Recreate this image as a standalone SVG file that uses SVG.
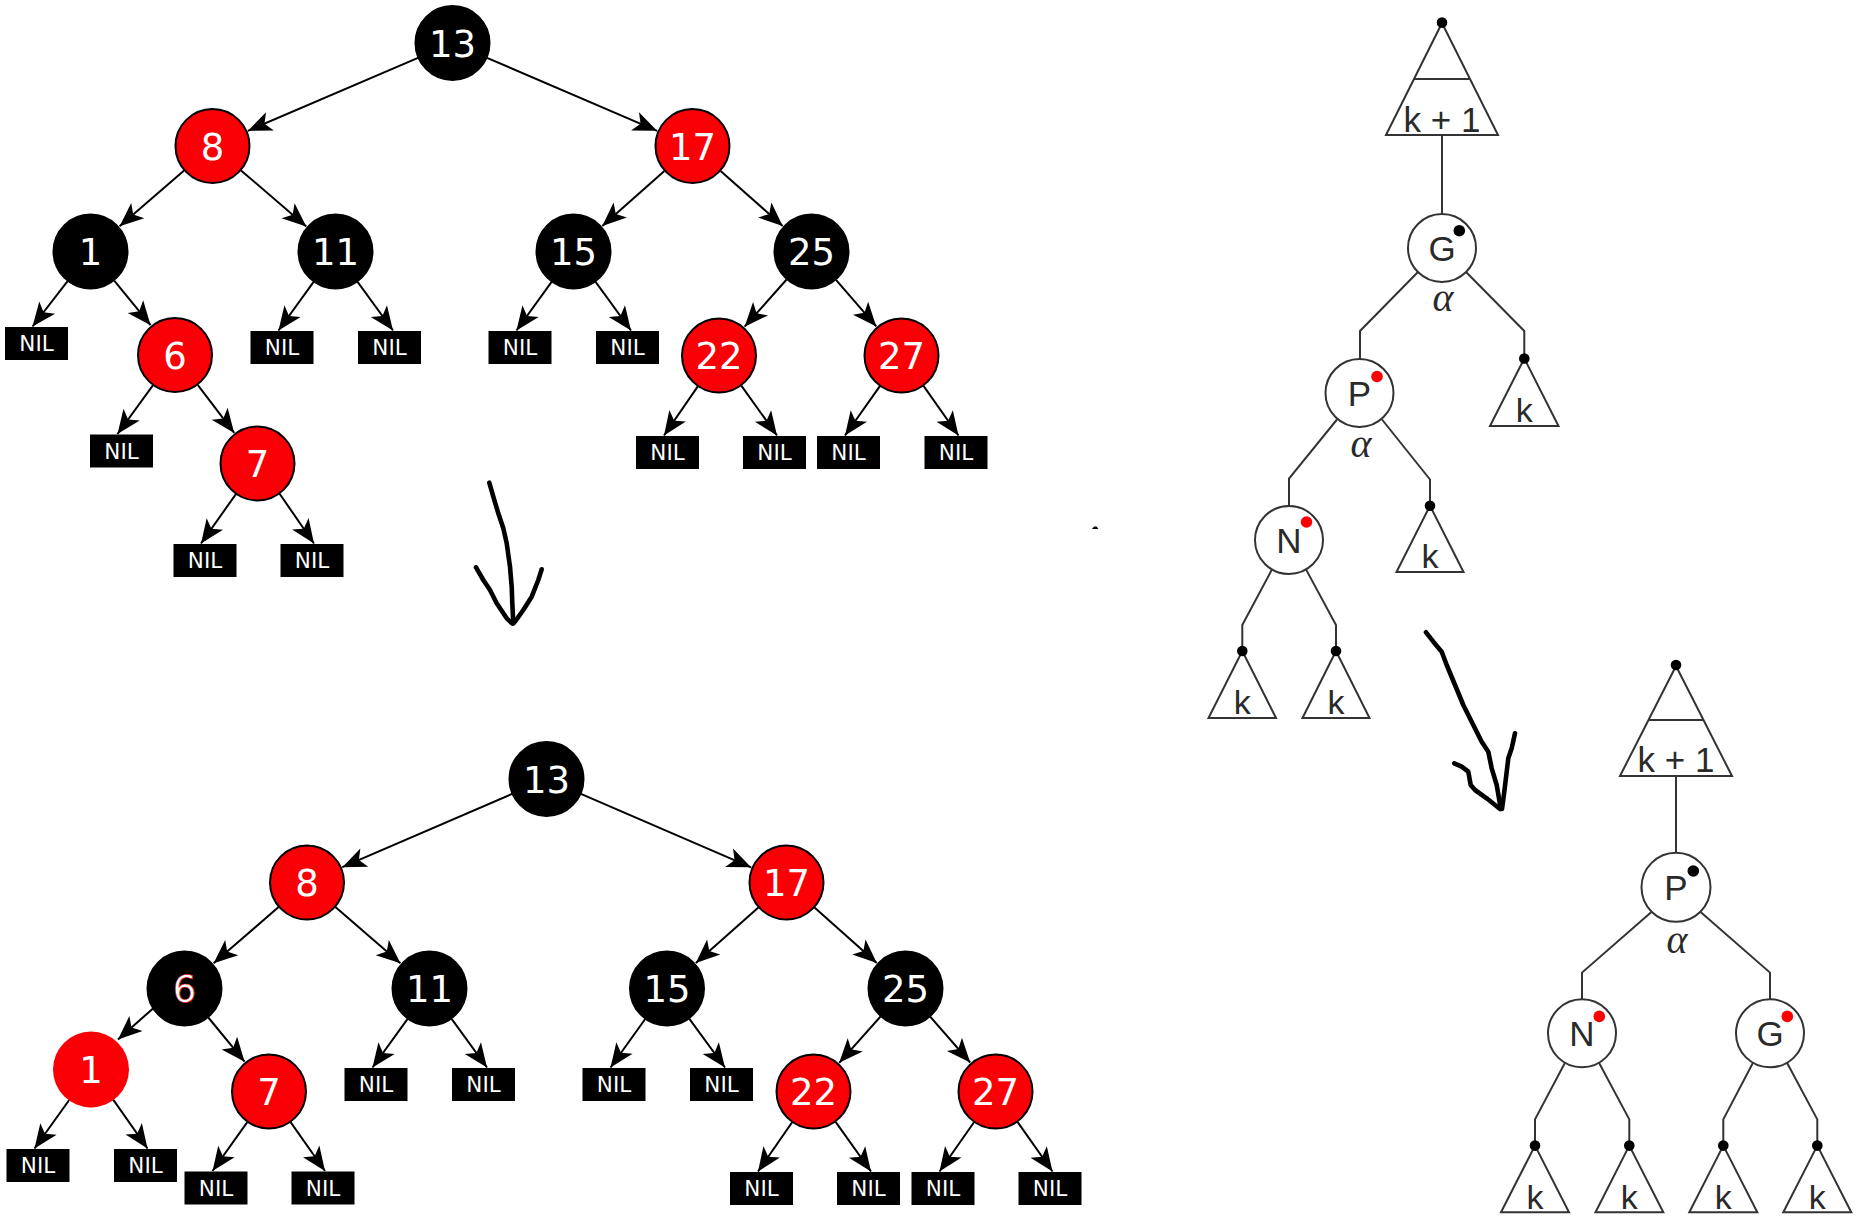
<svg xmlns="http://www.w3.org/2000/svg" width="1860" height="1229" viewBox="0 0 1860 1229">
<style>
.bn{fill:#000;stroke:#000;stroke-width:2}
.rn{fill:#fa0006;stroke:#000;stroke-width:2}
.rn0{fill:#fa0006;stroke:none}
.nt{fill:#fff;font-family:"DejaVu Sans",sans-serif;font-size:37px;text-anchor:middle}
.nil{fill:#000}
.nilt{fill:#fff;font-family:"DejaVu Sans",sans-serif;font-size:21.5px;text-anchor:middle}
.ed{stroke:#000;stroke-width:2;fill:none;marker-end:url(#ah)}
.ln{stroke:#333;stroke-width:2;fill:none}
.cn{fill:#fff;stroke:#333;stroke-width:2}
.tri{fill:#fff;stroke:#333;stroke-width:2;stroke-linejoin:miter}
.lt{fill:#2a2a2a;font-family:"Liberation Sans",Arial,sans-serif;font-size:35px;text-anchor:middle}
.kt{fill:#2a2a2a;font-family:"Liberation Sans",Arial,sans-serif;font-size:34px;text-anchor:middle}
.al{fill:#2a2a2a;font-family:"Liberation Serif","Times New Roman",serif;font-style:italic;font-size:40px;text-anchor:middle}
.dot{fill:#000}
.rdot{fill:#f00}
.hand{stroke:#000;stroke-width:4.6;fill:none;stroke-linecap:round;stroke-linejoin:round}
</style>
<defs>
<marker id="ah" viewBox="-25 -11 26 22" refX="0" refY="0" markerWidth="26" markerHeight="22" markerUnits="userSpaceOnUse" orient="auto">
<path d="M0,0 L-24,-10 L-18,0 L-24,10 Z" fill="#000"/>
</marker>
</defs>
<rect width="1860" height="1229" fill="#fff"/>

<!-- connectors: top-left tree -->
<g id="connectors-top">
<line class="ed" x1="418" y1="57.8" x2="247.9" y2="130.8"/>
<line class="ed" x1="487" y1="57.8" x2="657.1" y2="130.8"/>
<line class="ed" x1="184.1" y1="170.5" x2="119.6" y2="226.3"/>
<line class="ed" x1="241" y1="170.4" x2="306.3" y2="226.4"/>
<line class="ed" x1="664.4" y1="170.9" x2="602.3" y2="226"/>
<line class="ed" x1="720.6" y1="170.9" x2="782.7" y2="226"/>
<line class="ed" x1="114.2" y1="280.6" x2="150.6" y2="325.2"/>
<line class="ed" x1="197.7" y1="384.9" x2="234.2" y2="432.9"/>
<line class="ed" x1="786.6" y1="279.5" x2="744.6" y2="326.7"/>
<line class="ed" x1="836" y1="279.9" x2="876.3" y2="326.4"/>
<line class="ed" x1="67.6" y1="281.2" x2="32.5" y2="326.5"/>
<line class="ed" x1="152.9" y1="385.3" x2="117.5" y2="434"/>
<line class="ed" x1="235.9" y1="494.1" x2="201" y2="543.5"/>
<line class="ed" x1="279.6" y1="493.8" x2="314" y2="543.5"/>
<line class="ed" x1="313.6" y1="281.9" x2="278.5" y2="330.5"/>
<line class="ed" x1="357.6" y1="281.8" x2="393" y2="330.5"/>
<line class="ed" x1="551.6" y1="281.9" x2="516.5" y2="330.5"/>
<line class="ed" x1="595.6" y1="281.8" x2="631" y2="330.5"/>
<line class="ed" x1="697.8" y1="386.4" x2="664" y2="435.5"/>
<line class="ed" x1="741.3" y1="385.7" x2="777" y2="435.5"/>
<line class="ed" x1="879.9" y1="386.1" x2="845" y2="435.5"/>
<line class="ed" x1="923.5" y1="385.9" x2="958.5" y2="435.5"/>
</g>

<!-- connectors: bottom-left tree -->
<g id="connectors-bottom">
<line class="ed" x1="512.1" y1="793.9" x2="342.3" y2="867.2"/>
<line class="ed" x1="580.9" y1="793.9" x2="751.1" y2="867.3"/>
<line class="ed" x1="278.6" y1="907" x2="213.6" y2="963.3"/>
<line class="ed" x1="335.4" y1="907" x2="400.4" y2="963.3"/>
<line class="ed" x1="758.4" y1="907.4" x2="695.8" y2="963"/>
<line class="ed" x1="814.5" y1="907.4" x2="876.8" y2="962.9"/>
<line class="ed" x1="153" y1="1008.5" x2="118" y2="1039.5"/>
<line class="ed" x1="208.3" y1="1017.5" x2="244.6" y2="1061.7"/>
<line class="ed" x1="880.5" y1="1016.5" x2="839.2" y2="1062.8"/>
<line class="ed" x1="930.2" y1="1016.7" x2="970.2" y2="1062.5"/>
<line class="ed" x1="69.2" y1="1100" x2="34.5" y2="1148.5"/>
<line class="ed" x1="113.2" y1="1099.7" x2="147.5" y2="1148.5"/>
<line class="ed" x1="247.3" y1="1122.1" x2="212.5" y2="1171"/>
<line class="ed" x1="290.6" y1="1122.2" x2="325" y2="1171"/>
<line class="ed" x1="407.6" y1="1018.9" x2="372.5" y2="1067.5"/>
<line class="ed" x1="451.6" y1="1018.8" x2="487" y2="1067.5"/>
<line class="ed" x1="645.2" y1="1019" x2="610.5" y2="1067.5"/>
<line class="ed" x1="689.2" y1="1018.7" x2="725" y2="1067.5"/>
<line class="ed" x1="792.1" y1="1122.3" x2="758" y2="1171.5"/>
<line class="ed" x1="835.6" y1="1121.8" x2="871" y2="1171.5"/>
<line class="ed" x1="974" y1="1122.2" x2="939.5" y2="1171.5"/>
<line class="ed" x1="1017.5" y1="1121.9" x2="1052.5" y2="1171.5"/>
</g>

<!-- connectors: right-side trees -->
<g id="connectors-right">
<line class="ln" x1="1442" y1="135" x2="1442" y2="214"/>
<polyline class="ln" points="1418,272 1360,331 1360,359"/>
<polyline class="ln" points="1466,272 1524.3,331 1524.3,358.5"/>
<polyline class="ln" points="1337,419.5 1289,478.5 1289,506"/>
<polyline class="ln" points="1382,419.5 1430,479.5 1430,505.7"/>
<polyline class="ln" points="1272,569.4 1242.3,625 1242.3,651"/>
<polyline class="ln" points="1306,569.4 1336,625 1336,651"/>
<line class="ln" x1="1676" y1="776" x2="1676" y2="853"/>
<polyline class="ln" points="1652,911.5 1582,972.6 1582,999.5"/>
<polyline class="ln" points="1700,911.5 1770,972.6 1770,999.5"/>
<polyline class="ln" points="1565,1062.8 1535,1119.4 1535,1145.6"/>
<polyline class="ln" points="1599,1062.8 1629.3,1119.4 1629.3,1145.6"/>
<polyline class="ln" points="1753,1062.8 1723.3,1119.4 1723.3,1145.6"/>
<polyline class="ln" points="1787,1062.8 1817.3,1119.4 1817.3,1145.6"/>
</g>

<!-- top-left tree nodes -->
<g id="t13"><circle class="bn" cx="452.5" cy="43" r="37"/><text class="nt" x="452.5" y="56.5">13</text></g>
<g id="t8"><circle class="rn" cx="212.5" cy="146" r="37"/><text class="nt" x="212.5" y="159.5">8</text></g>
<g id="t17"><circle class="rn" cx="692.5" cy="146" r="37"/><text class="nt" x="692.5" y="159.5">17</text></g>
<g id="t1"><circle class="bn" cx="90.5" cy="251.5" r="37"/><text class="nt" x="90.5" y="265">1</text></g>
<g id="t11"><circle class="bn" cx="335.5" cy="251.5" r="37"/><text class="nt" x="335.5" y="265">11</text></g>
<g id="t15"><circle class="bn" cx="573.5" cy="251.5" r="37"/><text class="nt" x="573.5" y="265">15</text></g>
<g id="t25"><circle class="bn" cx="811.5" cy="251.5" r="37"/><text class="nt" x="811.5" y="265">25</text></g>
<g id="t6"><circle class="rn" cx="175" cy="355" r="37"/><text class="nt" x="175" y="368.5">6</text></g>
<g id="t22"><circle class="rn" cx="719" cy="355.5" r="37"/><text class="nt" x="719" y="369">22</text></g>
<g id="t27"><circle class="rn" cx="901.5" cy="355.5" r="37"/><text class="nt" x="901.5" y="369">27</text></g>
<g id="t7"><circle class="rn" cx="257.5" cy="463.5" r="37"/><text class="nt" x="257.5" y="477">7</text></g>
<g id="tnil1"><rect class="nil" x="5" y="327" width="63" height="33"/><text class="nilt" x="36.5" y="351.3">NIL</text></g>
<g id="tnil2"><rect class="nil" x="90" y="434.5" width="63" height="33"/><text class="nilt" x="121.5" y="458.8">NIL</text></g>
<g id="tnil3"><rect class="nil" x="173.5" y="544" width="63" height="33"/><text class="nilt" x="205" y="568.3">NIL</text></g>
<g id="tnil4"><rect class="nil" x="280.5" y="544" width="63" height="33"/><text class="nilt" x="312" y="568.3">NIL</text></g>
<g id="tnil5"><rect class="nil" x="250.5" y="331" width="63" height="33"/><text class="nilt" x="282" y="355.3">NIL</text></g>
<g id="tnil6"><rect class="nil" x="358" y="331" width="63" height="33"/><text class="nilt" x="389.5" y="355.3">NIL</text></g>
<g id="tnil7"><rect class="nil" x="488.5" y="331" width="63" height="33"/><text class="nilt" x="520" y="355.3">NIL</text></g>
<g id="tnil8"><rect class="nil" x="596" y="331" width="63" height="33"/><text class="nilt" x="627.5" y="355.3">NIL</text></g>
<g id="tnil9"><rect class="nil" x="636" y="436" width="63" height="33"/><text class="nilt" x="667.5" y="460.3">NIL</text></g>
<g id="tnil10"><rect class="nil" x="743" y="436" width="63" height="33"/><text class="nilt" x="774.5" y="460.3">NIL</text></g>
<g id="tnil11"><rect class="nil" x="817" y="436" width="63" height="33"/><text class="nilt" x="848.5" y="460.3">NIL</text></g>
<g id="tnil12"><rect class="nil" x="924.5" y="436" width="63" height="33"/><text class="nilt" x="956" y="460.3">NIL</text></g>

<!-- bottom-left tree nodes -->
<g id="b13"><circle class="bn" cx="546.5" cy="779" r="37"/><text class="nt" x="546.5" y="792.5">13</text></g>
<g id="b8"><circle class="rn" cx="307" cy="882.5" r="37"/><text class="nt" x="307" y="896">8</text></g>
<g id="b17"><circle class="rn" cx="786.5" cy="882.5" r="37"/><text class="nt" x="786.5" y="896">17</text></g>
<g id="b6"><circle class="bn" cx="184.5" cy="988.5" r="37"/><text class="nt" x="184.5" y="1002" stroke="#e00" stroke-width="0.6">6</text></g>
<g id="b11"><circle class="bn" cx="429.5" cy="988.5" r="37"/><text class="nt" x="429.5" y="1002">11</text></g>
<g id="b15"><circle class="bn" cx="667" cy="988.5" r="37"/><text class="nt" x="667" y="1002">15</text></g>
<g id="b25"><circle class="bn" cx="905.5" cy="988.5" r="37"/><text class="nt" x="905.5" y="1002">25</text></g>
<g id="b1"><circle class="rn0" cx="91" cy="1069.5" r="38"/><text class="nt" x="91" y="1083">1</text></g>
<g id="b7"><circle class="rn" cx="269" cy="1091.5" r="37"/><text class="nt" x="269" y="1105">7</text></g>
<g id="b22"><circle class="rn" cx="813.5" cy="1091.5" r="37"/><text class="nt" x="813.5" y="1105">22</text></g>
<g id="b27"><circle class="rn" cx="995.5" cy="1091.5" r="37"/><text class="nt" x="995.5" y="1105">27</text></g>
<g id="bnil1"><rect class="nil" x="6.5" y="1149" width="63" height="33"/><text class="nilt" x="38" y="1173.3">NIL</text></g>
<g id="bnil2"><rect class="nil" x="114" y="1149" width="63" height="33"/><text class="nilt" x="145.5" y="1173.3">NIL</text></g>
<g id="bnil3"><rect class="nil" x="184.5" y="1171.5" width="63" height="33"/><text class="nilt" x="216" y="1195.8">NIL</text></g>
<g id="bnil4"><rect class="nil" x="291.5" y="1171.5" width="63" height="33"/><text class="nilt" x="323" y="1195.8">NIL</text></g>
<g id="bnil5"><rect class="nil" x="344.5" y="1068" width="63" height="33"/><text class="nilt" x="376" y="1092.3">NIL</text></g>
<g id="bnil6"><rect class="nil" x="452" y="1068" width="63" height="33"/><text class="nilt" x="483.5" y="1092.3">NIL</text></g>
<g id="bnil7"><rect class="nil" x="582.5" y="1068" width="63" height="33"/><text class="nilt" x="614" y="1092.3">NIL</text></g>
<g id="bnil8"><rect class="nil" x="690" y="1068" width="63" height="33"/><text class="nilt" x="721.5" y="1092.3">NIL</text></g>
<g id="bnil9"><rect class="nil" x="730" y="1172" width="63" height="33"/><text class="nilt" x="761.5" y="1196.3">NIL</text></g>
<g id="bnil10"><rect class="nil" x="837" y="1172" width="63" height="33"/><text class="nilt" x="868.5" y="1196.3">NIL</text></g>
<g id="bnil11"><rect class="nil" x="911.5" y="1172" width="63" height="33"/><text class="nilt" x="943" y="1196.3">NIL</text></g>
<g id="bnil12"><rect class="nil" x="1018.5" y="1172" width="63" height="33"/><text class="nilt" x="1050" y="1196.3">NIL</text></g>

<!-- right top tree -->
<g id="rt-top"><path class="tri" d="M1442,23 L1386,135 L1498,135 Z"/><line class="ln" x1="1414" y1="79" x2="1470" y2="79"/><circle class="dot" cx="1442" cy="22.6" r="5.3"/><text class="lt" x="1442" y="131.5">k + 1</text></g>
<g id="rt-G"><circle class="cn" cx="1442" cy="248" r="34"/><text class="lt" x="1442" y="261">G</text><circle class="dot" cx="1459.3" cy="230.7" r="5.8"/><text class="al" x="1443" y="311">α</text></g>
<g id="rt-k1"><path class="tri" d="M1524.3,358.5 L1490,426 L1558.5,426 Z"/><circle class="dot" cx="1524.3" cy="358.5" r="5.3"/><text class="kt" x="1524.3" y="422">k</text></g>
<g id="rt-P"><circle class="cn" cx="1359.5" cy="393" r="34"/><text class="lt" x="1359.5" y="406">P</text><circle class="rdot" cx="1377" cy="376.5" r="5.8"/><text class="al" x="1361" y="456.5">α</text></g>
<g id="rt-k2"><path class="tri" d="M1430,505.7 L1396.5,572 L1463.5,572 Z"/><circle class="dot" cx="1430" cy="505.7" r="5.3"/><text class="kt" x="1430" y="568">k</text></g>
<g id="rt-N"><circle class="cn" cx="1289" cy="540" r="34"/><text class="lt" x="1289" y="553">N</text><circle class="rdot" cx="1306.5" cy="522" r="5.8"/></g>
<g id="rt-k3"><path class="tri" d="M1242.3,651 L1208.5,718 L1276,718 Z"/><circle class="dot" cx="1242.3" cy="651" r="5.3"/><text class="kt" x="1242.3" y="714">k</text></g>
<g id="rt-k4"><path class="tri" d="M1336,651 L1302.5,718 L1369.5,718 Z"/><circle class="dot" cx="1336" cy="651" r="5.3"/><text class="kt" x="1336" y="714">k</text></g>

<!-- right bottom tree -->
<g id="rb-top"><path class="tri" d="M1676,666 L1620,776 L1732,776 Z"/><line class="ln" x1="1648.5" y1="720" x2="1703.5" y2="720"/><circle class="dot" cx="1676" cy="665" r="5.3"/><text class="lt" x="1676" y="772">k + 1</text></g>
<g id="rb-P"><circle class="cn" cx="1676" cy="887.3" r="34.5"/><text class="lt" x="1676" y="900.3">P</text><circle class="dot" cx="1693.3" cy="871" r="5.8"/><text class="al" x="1677" y="953">α</text></g>
<g id="rb-N"><circle class="cn" cx="1582" cy="1033.3" r="34"/><text class="lt" x="1582" y="1046.3">N</text><circle class="rdot" cx="1599.3" cy="1016.4" r="5.8"/></g>
<g id="rb-G"><circle class="cn" cx="1770" cy="1033.3" r="34"/><text class="lt" x="1770" y="1046.3">G</text><circle class="rdot" cx="1787.3" cy="1016.4" r="5.8"/></g>
<g id="rb-k1"><path class="tri" d="M1535,1145.6 L1501,1212.3 L1569,1212.3 Z"/><circle class="dot" cx="1535" cy="1145.6" r="5.3"/><text class="kt" x="1535" y="1208.5">k</text></g>
<g id="rb-k2"><path class="tri" d="M1629.3,1145.6 L1595.5,1212.3 L1663.3,1212.3 Z"/><circle class="dot" cx="1629.3" cy="1145.6" r="5.3"/><text class="kt" x="1629.3" y="1208.5">k</text></g>
<g id="rb-k3"><path class="tri" d="M1723.3,1145.6 L1689.3,1212.3 L1757.3,1212.3 Z"/><circle class="dot" cx="1723.3" cy="1145.6" r="5.3"/><text class="kt" x="1723.3" y="1208.5">k</text></g>
<g id="rb-k4"><path class="tri" d="M1817.3,1145.6 L1783.3,1212.3 L1851.3,1212.3 Z"/><circle class="dot" cx="1817.3" cy="1145.6" r="5.3"/><text class="kt" x="1817.3" y="1208.5">k</text></g>

<!-- hand-drawn arrows -->
<g id="hand-arrow-left">
<path class="hand" d="M489.3,482.7 L493.3,496.7 L498.3,513.3 L503.3,528.3 L506.7,543.3 L510,566.7 L511.7,586.7 L512.3,603.3 L513.3,623.3"/>
<path class="hand" d="M476,567.3 L483.3,580 L490,590 L496.7,603.3 L506.7,618.3 L512,623.3"/>
<path class="hand" d="M541.7,569.3 L538.3,580 L531.7,596.7 L523.3,610 L515,621.7 L513.3,623.3"/>
</g>
<g id="hand-arrow-right">
<path class="hand" d="M1426,632.3 L1433.3,641.7 L1441.7,651.7 L1446.7,665 L1455,685 L1463.3,705 L1473.3,725 L1481.7,741.7 L1488.3,751.7 L1491.7,768.3 L1496.7,785 L1500.7,808.3"/>
<path class="hand" d="M1454.3,763.3 L1461.7,766.7 L1468.3,771.7 L1470.7,785 L1475,790 L1486.7,798.3 L1500,809"/>
<path class="hand" d="M1515,733.3 L1511.7,748.3 L1508.3,758.3 L1506.7,771.7 L1504.3,791.7 L1502,809"/>
</g>
<path id="speck" d="M1092,529 L1094,526.5 L1096.5,526.5 L1098.5,529 Z" fill="#000"/>
</svg>
